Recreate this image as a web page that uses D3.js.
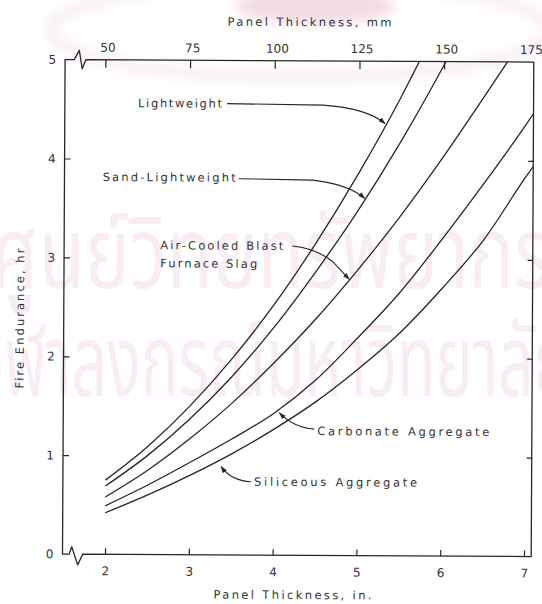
<!DOCTYPE html>
<html>
<head>
<meta charset="utf-8">
<script src="https://cdn.jsdelivr.net/npm/d3@7"></script>
<style>
  html, body { margin: 0; padding: 0; background: #fff; }
  svg { display: block; }
  text { font-family: "DejaVu Sans", "Liberation Sans", sans-serif; fill: #333; }
</style>
</head>
<body>
<svg id="chart" width="542" height="604"></svg>
<script>
// Fire endurance of concrete panels by thickness and aggregate type
const inchTicks = [2, 3, 4, 5, 6, 7];
const mmTicks = [50, 75, 100, 125, 150, 175];
const hourTicks = [0, 1, 2, 3, 4, 5];

const lightweightIn = [2, 2.5, 3, 3.5, 4, 4.5, 5, 5.5, 5.75];
const lightweightHr = [0.75, 1.09, 1.50, 1.98, 2.53, 3.16, 3.86, 4.63, 5.05];

const sandLightweightIn = [2, 2.5, 3, 3.5, 4, 4.5, 5, 5.5, 6, 6.1];
const sandLightweightHr = [0.69, 1.00, 1.37, 1.80, 2.30, 2.87, 3.49, 4.18, 4.94, 5.1];

const slagIn = [2, 2.5, 3, 3.5, 4, 4.5, 5, 5.5, 6, 6.5, 6.85];
const slagHr = [0.58, 0.85, 1.17, 1.53, 1.94, 2.39, 2.89, 3.43, 4.02, 4.65, 5.1];

const carbonateIn = [2, 2.5, 3, 3.5, 4, 4.5, 5, 5.5, 6, 6.5, 7, 7.15];
const carbonateHr = [0.49, 0.70, 0.93, 1.17, 1.43, 1.77, 2.20, 2.66, 3.20, 3.77, 4.37, 4.56];

const siliceousIn = [2, 2.5, 3, 3.5, 4, 4.5, 5, 5.5, 6, 6.5, 7, 7.15];
const siliceousHr = [0.42, 0.60, 0.80, 1.02, 1.27, 1.55, 1.88, 2.25, 2.70, 3.20, 3.84, 4.02];

const seriesNames = ["Lightweight", "Sand-Lightweight", "Air-Cooled Blast Furnace Slag",
                     "Carbonate Aggregate", "Siliceous Aggregate"];

const series = [
  { name: seriesNames[0], xs: lightweightIn, ys: lightweightHr },
  { name: seriesNames[1], xs: sandLightweightIn, ys: sandLightweightHr },
  { name: seriesNames[2], xs: slagIn, ys: slagHr },
  { name: seriesNames[3], xs: carbonateIn, ys: carbonateHr },
  { name: seriesNames[4], xs: siliceousIn, ys: siliceousHr }
];

// frame geometry
const L = 63.8, R = 532.5, T = 60.8, B = 555.3;
const ink = "#262626";

const svg = d3.select("#chart");
const defs = svg.append("defs");
defs.append("filter").attr("id", "soft").attr("x", "-20%").attr("y", "-50%").attr("width", "140%").attr("height", "200%")
  .append("feGaussianBlur").attr("stdDeviation", 6);

// faint library stamp behind the chart
const wm = svg.append("g");
wm.append("ellipse").attr("cx", 300).attr("cy", 30).attr("rx", 250).attr("ry", 48)
  .attr("fill", "none").attr("stroke", "#f9f0f3").attr("stroke-width", 12).attr("filter", "url(#soft)");
wm.append("ellipse").attr("cx", 315).attr("cy", 6).attr("rx", 80).attr("ry", 18)
  .attr("fill", "#f3dce3").attr("filter", "url(#soft)");
wm.append("text").attr("x", 271).attr("y", 288).attr("text-anchor", "middle")
  .attr("textLength", 560).attr("lengthAdjust", "spacingAndGlyphs")
  .style("font-family", "'Noto Sans Thai', 'Noto Sans', sans-serif")
  .style("font-size", "100px").style("fill", "#f8edf2").text("ศูนย์วิทยทรัพยากร");
wm.append("text").attr("x", 271).attr("y", 396).attr("text-anchor", "middle")
  .attr("textLength", 600).attr("lengthAdjust", "spacingAndGlyphs")
  .style("font-family", "'Noto Sans Thai', 'Noto Sans', sans-serif")
  .style("font-size", "100px").style("fill", "#f8edf2").text("จุฬาลงกรณ์มหาวิทยาลัย");

const g = svg.append("g").attr("transform", "rotate(0.3 297 307)");

const x = d3.scaleLinear().domain([2, 7]).range([106.3, 525.3]);
const xmm = d3.scaleLinear().domain([50, 175]).range([104.1, 527.6]);
const y = d3.scaleLinear().domain([0, 5]).range([B, T]);

// frame with axis breaks at the left corners
g.append("path")
  .attr("d", `M${R},${T} H84.5 L81,70 L78,51.5 L73,${T} H${L} V${B} H70.5 L73,548 L79,566 L84,${B} H${R} Z`)
  .attr("fill", "none").attr("stroke", ink).attr("stroke-width", 1.3).attr("stroke-linejoin", "round");

function styleAxis(sel) {
  sel.select(".domain").remove();
  sel.selectAll(".tick line").attr("stroke", ink).attr("stroke-width", 1.2);
  sel.selectAll(".tick text").style("font-size", "12px").attr("fill", "#333");
}

// bottom axis (inches)
g.append("g").attr("transform", `translate(0,${B})`)
  .call(d3.axisBottom(x).tickValues(inchTicks).tickSize(-6).tickPadding(12.5).tickFormat(d3.format("d")))
  .call(styleAxis);

// top axis (millimetres)
const topAx = g.append("g").attr("transform", `translate(0,${T})`)
  .call(d3.axisTop(xmm).tickValues(mmTicks).tickSize(-8).tickPadding(8).tickFormat(d3.format("d")))
  .call(styleAxis);
topAx.selectAll(".tick").filter(d => d === 175).select("line").remove();
topAx.selectAll(".tick text").attr("dx", 2);

// left axis (hours)
const leftAx = g.append("g").attr("transform", `translate(${L},0)`)
  .call(d3.axisLeft(y).tickValues(hourTicks).tickSize(-6).tickPadding(9).tickFormat(d3.format("d")))
  .call(styleAxis);
leftAx.selectAll(".tick").filter(d => d === 0 || d === 5).select("line").remove();

// right axis tick marks only
g.append("g").attr("transform", `translate(${R},0)`)
  .call(d3.axisRight(y).tickValues([1, 2, 3, 4]).tickSize(-5).tickFormat(""))
  .call(styleAxis);

// axis titles
g.append("text").attr("x", 308).attr("y", 26).attr("text-anchor", "middle")
  .attr("textLength", 164).attr("lengthAdjust", "spacing")
  .style("font-size", "11.5px").text("Panel Thickness, mm");
g.append("text").attr("x", 294).attr("y", 599).attr("text-anchor", "middle")
  .attr("textLength", 158).attr("lengthAdjust", "spacing")
  .style("font-size", "11.5px").text("Panel Thickness, in.");
g.append("text").attr("transform", "translate(24,320) rotate(-90)").attr("text-anchor", "middle")
  .attr("textLength", 140).attr("lengthAdjust", "spacing")
  .style("font-size", "11.5px").text("Fire Endurance, hr");

// curves
g.append("clipPath").attr("id", "plot-clip")
  .append("rect").attr("x", L).attr("y", T).attr("width", R - L).attr("height", B - T);

const line = d3.line().x(d => x(d[0])).y(d => y(d[1])).curve(d3.curveMonotoneX);

g.append("g").attr("clip-path", "url(#plot-clip)")
  .selectAll("path").data(series).join("path")
  .attr("d", s => line(s.xs.map((v, i) => [v, s.ys[i]])))
  .attr("fill", "none").attr("stroke", ink).attr("stroke-width", 1.3);

// leader arrowheads
defs.append("marker").attr("id", "arrow").attr("viewBox", "0 0 10 10")
  .attr("refX", 9).attr("refY", 5).attr("markerWidth", 7).attr("markerHeight", 7)
  .attr("markerUnits", "userSpaceOnUse").attr("orient", "auto")
  .append("path").attr("d", "M0,1.5 L10,5 L0,8.5 Z").attr("fill", ink);

const labelFont = "11.5px";
const labels = [
  { text: "Lightweight", x: 137, y: 108, w: 84, leader: "M226,104 L322,105 Q366,108 384,123" },
  { text: "Sand-Lightweight", x: 102, y: 182, w: 133, leader: "M238,179 L312,180 Q348,184 364,198" },
  { text: "Air-Cooled Blast", x: 160, y: 250, w: 123, leader: "M292,246 Q316,248 333,262 L349,279" },
  { text: "Furnace Slag", x: 160, y: 268, w: 97, leader: null },
  { text: "Carbonate Aggregate", x: 318, y: 435, w: 172, leader: "M315,429 Q295,428 280,413" },
  { text: "Siliceous Aggregate", x: 255, y: 486, w: 163, leader: "M252,482 Q232,481 222,467" }
];

labels.forEach(l => {
  g.append("text").attr("x", l.x).attr("y", l.y)
    .attr("textLength", l.w).attr("lengthAdjust", "spacing")
    .style("font-size", labelFont).text(l.text);
  if (l.leader) {
    g.append("path").attr("d", l.leader).attr("fill", "none")
      .attr("stroke", ink).attr("stroke-width", 1.1).attr("marker-end", "url(#arrow)");
  }
});
</script>
</body>
</html>
